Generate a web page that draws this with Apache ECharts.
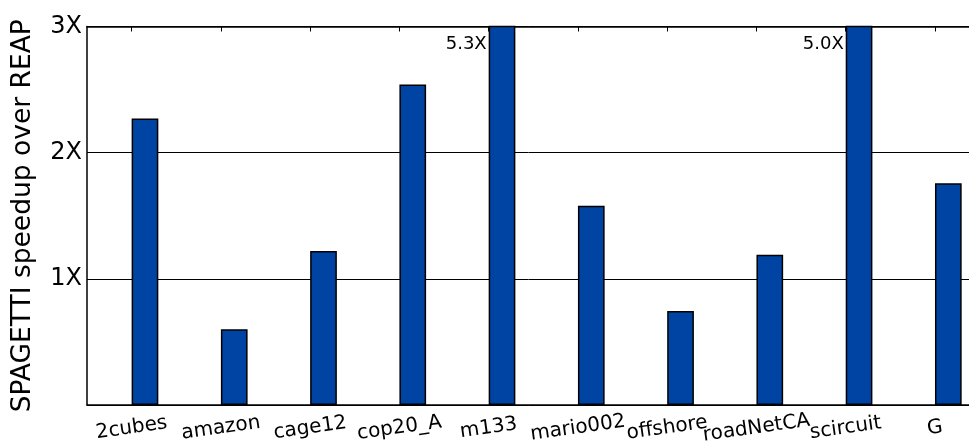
<!DOCTYPE html>
<html><head><meta charset="utf-8">
<script src="https://cdn.jsdelivr.net/npm/echarts@6/dist/echarts.min.js"></script>
<style>html,body{margin:0;padding:0;background:#fff}#c{width:969px;height:446px}</style>
</head><body><div id="c"></div>
<script>
var categories = ['2cubes','amazon','cage12','cop20_A','m133','mario002','offshore','roadNetCA','scircuit','G'];
var speedups = [2.27, 0.60, 1.22, 2.54, 5.3, 1.58, 0.745, 1.19, 5.0, 1.757];
var yTicks = [0, 1, 2, 3];
var yLabelText = ['', '1X', '2X', '3X'];
var yMax = 3;
var FONT = 'DejaVu Sans';

var chart = echarts.init(document.getElementById('c'), null, {renderer: 'canvas'});
chart.setOption({
  animation: false,
  backgroundColor: '#fff',
  grid: {left: 87, top: 26.5, width: 892.6, height: 378.5, containLabel: false, outerBoundsMode: 'none'},
  xAxis: [{
    type: 'category', data: categories, position: 'bottom',
    boundaryGap: true,
    axisLine: {lineStyle: {color: '#000', width: 1.5}},
    axisTick: {show: false},
    axisLabel: {color: '#000', fontFamily: FONT, fontSize: 20, rotate: 8, align: 'center', verticalAlign: 'middle', margin: 23, interval: 0, hideOverlap: false}
  }, {
    type: 'category', data: categories, position: 'top',
    axisLine: {lineStyle: {color: '#000', width: 1.5}},
    axisTick: {show: true, inside: true, length: 5, alignWithLabel: true, lineStyle: {color: '#000', width: 1}},
    axisLabel: {show: false}
  }],
  yAxis: {
    type: 'value', min: 0, max: yMax, interval: 1,
    name: 'SPAGETTI speedup over REAP', nameLocation: 'middle', nameGap: 50, nameRotate: 90,
    nameTextStyle: {color: '#000', fontFamily: FONT, fontSize: 26.5},
    axisLine: {show: true, lineStyle: {color: '#000', width: 1.5}},
    axisTick: {show: false},
    splitLine: {show: true, lineStyle: {color: '#000', width: 1}},
    axisLabel: {color: '#000', fontFamily: FONT, fontSize: 24, margin: 5,
      formatter: function (v) { var i = yTicks.indexOf(v); return i >= 0 ? yLabelText[i] : ''; }}
  },
  series: [{
    type: 'bar', xAxisIndex: 0, data: categories.map(function () { return '-'; }),
    barWidth: 26.7, barGap: '0%', silent: true
  }, {
    type: 'bar', xAxisIndex: 0, data: speedups,
    barWidth: 26.7, barGap: '0%', clip: true,
    itemStyle: {color: '#0044A3', borderColor: '#000', borderWidth: 1.5},
    label: {
      show: true, position: [-2, 19], align: 'right', verticalAlign: 'middle',
      color: '#000', fontFamily: FONT, fontSize: 18,
      formatter: function (p) { return p.value > yMax ? p.value.toFixed(1) + 'X' : ''; }
    }
  }]
});
</script></body></html>
